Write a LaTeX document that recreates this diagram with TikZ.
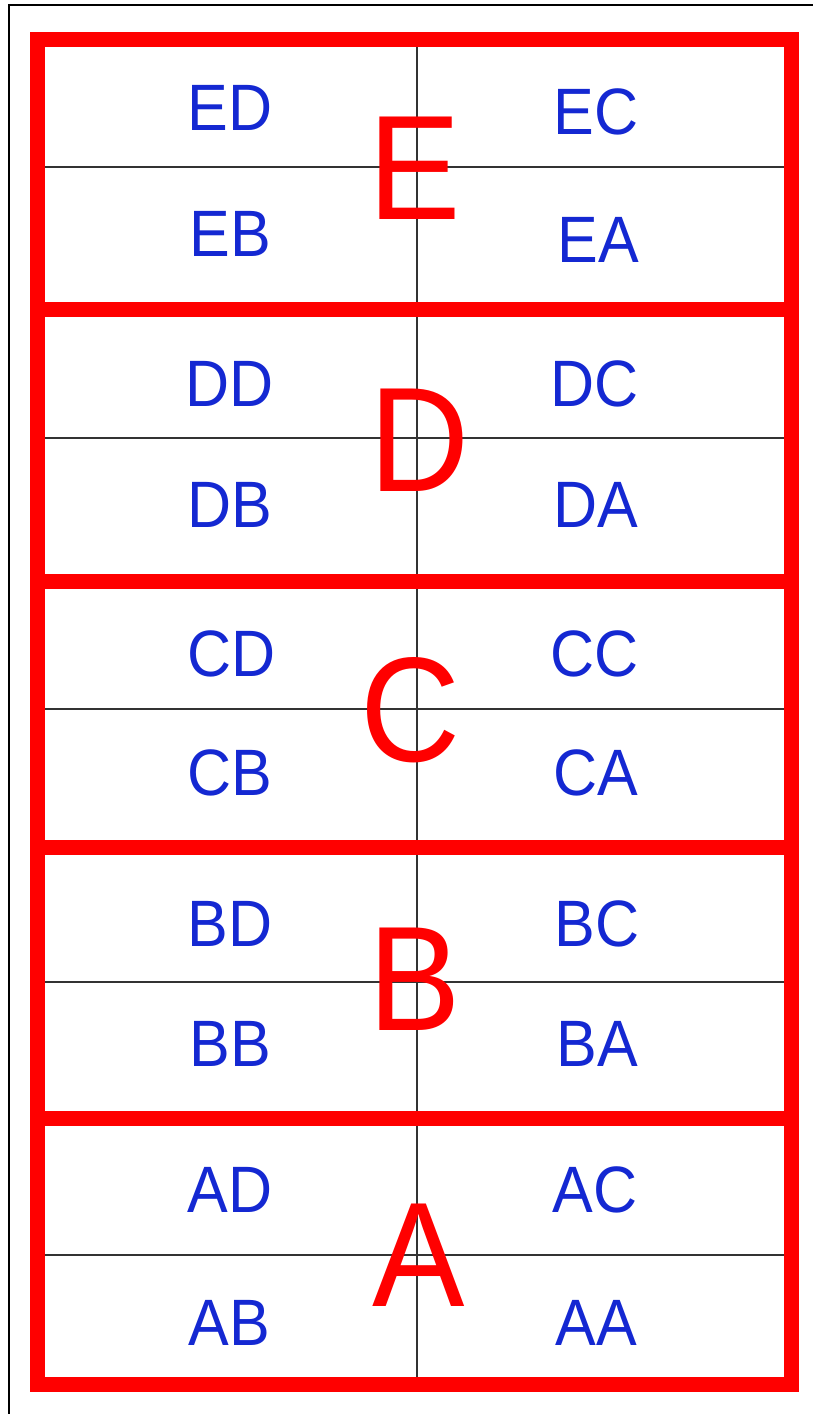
\documentclass[tikz,border=0pt]{standalone}
\usepackage{fontspec}
\setmainfont{Liberation Sans}
\newfontfamily\narrowfont[FakeStretch=0.93]{Liberation Sans}
\definecolor{cellblue}{RGB}{20,40,210}
\definecolor{bandred}{RGB}{255,0,0}
\begin{document}
\begin{tikzpicture}[x=1pt,y=-1pt,
  cell/.style={text=cellblue,font=\narrowfont\fontsize{65.6}{70}\selectfont,inner sep=0pt},
  big/.style={text=bandred,font=\narrowfont\fontsize{149}{150}\selectfont,inner sep=0pt},
  redline/.style={draw=bandred,line width=15pt},
  thin/.style={draw=black!80,line width=1.9pt}]
\useasboundingbox (0,0) rectangle (813,1414);
\fill[white] (0,0) rectangle (813,1414);
% outer black frame (left and top visible)
\coordinate (fb) at (8.5,1414);
\coordinate (ft) at (8.5,4.5);
\coordinate (fr) at (813,4.5);
\draw[black,line width=2pt] (fb) -- (ft) -- (fr);
% grid lines
\coordinate (vtop) at (416.7,39);
\coordinate (vbot) at (416.7,1384.5);
\draw[thin] (vtop) -- (vbot);
\foreach \y/\n in {166.7/e,438.3/d,709.3/c,982.3/b,1255/a}{
  \coordinate (hl\n) at (45,\y);
  \coordinate (hr\n) at (784,\y);
  \draw[thin] (hl\n) -- (hr\n);
}
% red frame
\coordinate (r1) at (37.5,39);
\coordinate (r2) at (791.5,1384.5);
\draw[redline] (r1) rectangle (r2);
\foreach \y/\n in {309/1,581/2,847.5/3,1118/4}{
  \coordinate (sl\n) at (37.5,\y);
  \coordinate (sr\n) at (791.5,\y);
  \draw[redline] (sl\n) -- (sr\n);
}
% cell labels
\node[cell] (ED) at (230,108) {ED};
\node[cell] (EC) at (596,112) {EC};
\node[cell] (EB) at (230,234) {EB};
\node[cell] (EA) at (598,240) {EA};
\node[cell] (DD) at (230,384) {DD};
\node[cell] (DC) at (595,384) {DC};
\node[cell] (DB) at (230,505) {DB};
\node[cell] (DA) at (596,505) {DA};
\node[cell] (CD) at (232,654) {CD};
\node[cell] (CC) at (595,654) {CC};
\node[cell] (CB) at (230,773) {CB};
\node[cell] (CA) at (596,773) {CA};
\node[cell] (BD) at (230,924) {BD};
\node[cell] (BC) at (597,924) {BC};
\node[cell] (BB) at (230,1044) {BB};
\node[cell] (BA) at (597,1044) {BA};
\node[cell] (AD) at (230,1190) {AD};
\node[cell] (AC) at (595,1190) {AC};
\node[cell] (AB) at (229,1323) {AB};
\node[cell] (AA) at (596,1323) {AA};
% band letters
\node[big] (E) at (415,168) {E};
\node[big] (D) at (420,440) {D};
\node[big] (C) at (411,710) {C};
\node[big] (B) at (415,979) {B};
\node[big] (A) at (419,1255) {A};
\end{tikzpicture}
\end{document}
